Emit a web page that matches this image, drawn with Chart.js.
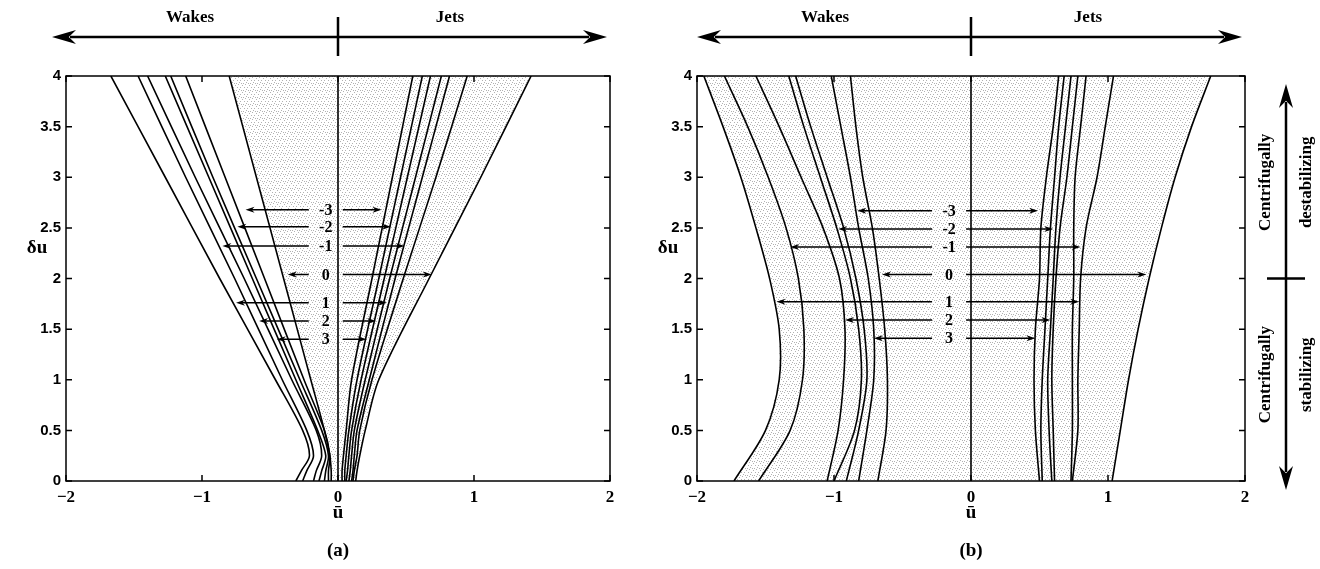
<!DOCTYPE html>
<html>
<head>
<meta charset="utf-8">
<script src="https://cdn.jsdelivr.net/npm/chart.js@4.4.1/dist/chart.umd.min.js"></script>
<style>
  html, body { margin: 0; padding: 0; background: #fff; }
  #wrap { position: relative; width: 1320px; height: 569px; overflow: hidden; }
  canvas { position: absolute; top: 0; }
</style>
</head>
<body>
<div id="wrap">
  <canvas id="chartA" width="660" height="569" style="left:0"></canvas>
  <canvas id="chartB" width="690" height="569" style="left:630px"></canvas>
</div>
<script>
// axis ticks
const xTicks = [-2, -1, 0, 1, 2];
const yTicks = [0, 0.5, 1, 1.5, 2, 2.5, 3, 3.5, 4];

// ---- panel (a): u-bar position of each boundary at the du levels ----
const duA = [0, 0.1, 0.25, 0.5, 1, 2, 3, 4];
const aWake1 = [-0.31, -0.27, -0.21, -0.26, -0.46, -0.87, -1.27, -1.67];
const aWake2 = [-0.26, -0.23, -0.18, -0.23, -0.41, -0.76, -1.12, -1.47];
const aWake3 = [-0.18, -0.16, -0.12, -0.16, -0.34, -0.69, -1.05, -1.40];
const aWake4 = [-0.14, -0.12, -0.09, -0.15, -0.31, -0.63, -0.95, -1.27];
const aWake5 = [-0.10, -0.09, -0.07, -0.12, -0.28, -0.60, -0.92, -1.23];
const aWake6 = [-0.07, -0.07, -0.06, -0.10, -0.25, -0.54, -0.83, -1.12];
const aWake7 = [-0.05, -0.05, -0.06, -0.10, -0.20, -0.40, -0.60, -0.80];
const aJet0 = [0.13, 0.14, 0.16, 0.20, 0.30, 0.67, 1.05, 1.42];
const aJet1 = [0.03, 0.03, 0.04, 0.06, 0.10, 0.25, 0.40, 0.55];
const aJet2 = [0.05, 0.05, 0.06, 0.08, 0.14, 0.30, 0.46, 0.62];
const aJet3 = [0.06, 0.07, 0.08, 0.10, 0.17, 0.34, 0.51, 0.68];
const aJet4 = [0.08, 0.09, 0.10, 0.12, 0.20, 0.38, 0.57, 0.76];
const aJet5 = [0.10, 0.11, 0.12, 0.14, 0.23, 0.42, 0.62, 0.82];
const aJet6 = [0.11, 0.12, 0.14, 0.16, 0.25, 0.48, 0.72, 0.95];

// ---- panel (b) ----
const duB = [0, 0.5, 1, 1.5, 2, 2.5, 3, 3.5, 4];
const bWake1 = [-1.73, -1.50, -1.40, -1.40, -1.47, -1.57, -1.68, -1.81, -1.95];
const bWake2 = [-1.55, -1.32, -1.23, -1.22, -1.26, -1.35, -1.48, -1.63, -1.80];
const bWake3 = [-1.05, -0.97, -0.93, -0.92, -0.96, -1.08, -1.24, -1.40, -1.57];
const bWake4 = [-1.00, -0.85, -0.80, -0.82, -0.88, -0.98, -1.10, -1.22, -1.33];
const bWake5 = [-0.91, -0.82, -0.76, -0.78, -0.84, -0.93, -1.05, -1.17, -1.28];
const bWake6 = [-0.82, -0.76, -0.71, -0.71, -0.75, -0.82, -0.88, -0.95, -1.02];
const bWake7 = [-0.68, -0.62, -0.61, -0.63, -0.67, -0.72, -0.79, -0.84, -0.88];
const bJet0 = [1.03, 1.09, 1.15, 1.22, 1.30, 1.39, 1.49, 1.61, 1.75];
const bJet1 = [0.50, 0.47, 0.46, 0.47, 0.50, 0.51, 0.55, 0.60, 0.64];
const bJet2 = [0.52, 0.51, 0.52, 0.54, 0.56, 0.58, 0.61, 0.64, 0.68];
const bJet3 = [0.59, 0.57, 0.56, 0.58, 0.60, 0.62, 0.65, 0.69, 0.73];
const bJet4 = [0.61, 0.60, 0.59, 0.60, 0.62, 0.65, 0.70, 0.74, 0.78];
const bJet5 = [0.73, 0.74, 0.74, 0.74, 0.75, 0.75, 0.76, 0.80, 0.84];
const bJet6 = [0.74, 0.78, 0.78, 0.79, 0.80, 0.84, 0.92, 0.98, 1.04];

// labelled double arrows (du level, wake tip, jet tip)
const arrowLabels = ['-3', '-2', '-1', '0', '1', '2', '3'];
const aArrowDu = [2.68, 2.51, 2.32, 2.04, 1.76, 1.58, 1.40];
const aArrowLeft = [-0.68, -0.74, -0.85, -0.37, -0.75, -0.58, -0.45];
const aArrowRight = [0.32, 0.39, 0.49, 0.69, 0.36, 0.28, 0.21];
const bArrowDu = [2.67, 2.49, 2.31, 2.04, 1.77, 1.59, 1.41];
const bArrowLeft = [-0.83, -0.97, -1.32, -0.65, -1.42, -0.92, -0.71];
const bArrowRight = [0.49, 0.60, 0.80, 1.28, 0.79, 0.58, 0.47];

const SERIF = '"Liberation Serif", "DejaVu Serif", serif';
const SANS = '"Liberation Sans", Arial, sans-serif';

function stipple() {
  const c = document.createElement('canvas');
  c.width = 7; c.height = 7;
  const g = c.getContext('2d');
  g.fillStyle = 'rgba(0,0,0,0.30)';
  [[0, 0], [4, 1], [2, 3], [6, 3], [1, 5], [5, 6], [3, 6]].forEach(([px, py]) => g.fillRect(px, py, 1, 1));
  return g.createPattern(c, 'repeat');
}

function head(ctx, x, y, dir, len, half) {
  ctx.beginPath();
  ctx.moveTo(x, y);
  ctx.lineTo(x - dir * len, y - half);
  ctx.lineTo(x - dir * len * 0.7, y);
  ctx.lineTo(x - dir * len, y + half);
  ctx.closePath();
  ctx.fill();
}

function headV(ctx, x, y, dir, len, half) {
  ctx.beginPath();
  ctx.moveTo(x, y);
  ctx.lineTo(x - half, y - dir * len);
  ctx.lineTo(x, y - dir * len * 0.7);
  ctx.lineTo(x + half, y - dir * len);
  ctx.closePath();
  ctx.fill();
}

function decor(p) {
  return {
    id: 'decor',
    afterDatasetsDraw(chart) {
      const { ctx, chartArea: a, scales: { x, y } } = chart;
      ctx.save();
      ctx.strokeStyle = '#000';
      ctx.fillStyle = '#000';
      // frame with inward ticks
      ctx.lineWidth = 1.5;
      ctx.strokeRect(a.left, a.top, a.width, a.height);
      ctx.beginPath();
      xTicks.forEach(v => {
        const px = x.getPixelForValue(v);
        ctx.moveTo(px, a.bottom); ctx.lineTo(px, a.bottom - 6);
        ctx.moveTo(px, a.top); ctx.lineTo(px, a.top + 6);
      });
      yTicks.forEach(v => {
        const py = y.getPixelForValue(v);
        ctx.moveTo(a.left, py); ctx.lineTo(a.left + 6, py);
        ctx.moveTo(a.right, py); ctx.lineTo(a.right - 6, py);
      });
      ctx.stroke();

      // labelled arrows
      const cx = x.getPixelForValue(p.labelX);
      ctx.font = 'bold 16px ' + SERIF;
      ctx.textAlign = 'center';
      ctx.textBaseline = 'middle';
      ctx.lineWidth = 1.5;
      arrowLabels.forEach((t, i) => {
        const py = y.getPixelForValue(p.arrowDu[i]);
        const xl = x.getPixelForValue(p.arrowLeft[i]);
        const xr = x.getPixelForValue(p.arrowRight[i]);
        ctx.beginPath();
        ctx.moveTo(cx - 17, py); ctx.lineTo(xl + 5, py);
        ctx.moveTo(cx + 17, py); ctx.lineTo(xr - 5, py);
        ctx.stroke();
        head(ctx, xl, py, -1, 9, 3);
        head(ctx, xr, py, 1, 9, 3);
        ctx.fillText(t, cx, py + 1);
      });
      ctx.restore();
    },
    afterDraw(chart) {
      const { ctx, chartArea: a, scales: { x, y } } = chart;
      const x0 = x.getPixelForValue(0);
      ctx.save();
      ctx.strokeStyle = '#000';
      ctx.fillStyle = '#000';

      // Wakes <-|-> Jets
      const ya = 37;
      ctx.lineWidth = 2.5;
      ctx.beginPath();
      ctx.moveTo(p.topLeft + 18, ya); ctx.lineTo(p.topRight - 18, ya);
      ctx.moveTo(x0, 17); ctx.lineTo(x0, 56);
      ctx.stroke();
      head(ctx, p.topLeft, ya, -1, 24, 7);
      head(ctx, p.topRight, ya, 1, 24, 7);
      ctx.font = 'bold 17px ' + SERIF;
      ctx.textAlign = 'center';
      ctx.textBaseline = 'middle';
      ctx.fillText('Wakes', p.wakesX, 18);
      ctx.fillText('Jets', p.jetsX, 18);

      // du label and caption
      ctx.font = 'bold 19px ' + SERIF;
      ctx.fillText('\u03B4u', a.left - 29, y.getPixelForValue(2.3));
      ctx.fillText(p.caption, x0, 551);

      if (p.side) {
        const ax = p.side.arrowX;
        const yMid = y.getPixelForValue(2);
        ctx.lineWidth = 2.5;
        ctx.beginPath();
        ctx.moveTo(ax, p.side.top + 18); ctx.lineTo(ax, p.side.bottom - 18);
        ctx.moveTo(ax - 19, yMid); ctx.lineTo(ax + 19, yMid);
        ctx.stroke();
        headV(ctx, ax, p.side.top, -1, 24, 7);
        headV(ctx, ax, p.side.bottom, 1, 24, 7);
        ctx.font = 'bold 17px ' + SERIF;
        const txt = (s, tx, ty) => {
          ctx.save();
          ctx.translate(tx, ty);
          ctx.rotate(-Math.PI / 2);
          ctx.fillText(s, 0, 0);
          ctx.restore();
        };
        txt('Centrifugally', ax - 20, y.getPixelForValue(2.95));
        txt('destabilizing', ax + 21, y.getPixelForValue(2.95));
        txt('Centrifugally', ax - 20, y.getPixelForValue(1.05));
        txt('stabilizing', ax + 21, y.getPixelForValue(1.05));
      }
      ctx.restore();
    }
  };
}

function curve(xs, du) {
  return {
    data: xs.map((v, i) => ({ x: v, y: du[i] })),
    borderColor: '#000',
    borderWidth: 1.6,
    pointRadius: 0,
    tension: 0.3,
    fill: false,
    order: 1
  };
}

function shade(inner, outer, du) {
  const pts = inner.map((v, i) => ({ x: v, y: du[i] }));
  for (let i = outer.length - 1; i >= 0; i--) pts.push({ x: outer[i], y: du[i] });
  return {
    data: pts,
    borderWidth: 0,
    borderColor: 'rgba(0,0,0,0)',
    backgroundColor: stipple(),
    pointRadius: 0,
    tension: 0,
    fill: 'shape',
    order: 10
  };
}

function buildPanel(id, p) {
  const datasets = [shade(p.shadeFrom, p.shadeTo, p.du)];
  p.curves.forEach(c => datasets.push(curve(c, p.du)));
  datasets.push(curve([0, 0], [0, 4]));

  new Chart(document.getElementById(id), {
    type: 'line',
    data: { datasets: datasets },
    options: {
      responsive: false,
      animation: false,
      events: [],
      layout: {
        autoPadding: false,
        padding: { left: 0, top: 76, right: p.padRight, bottom: 43 }
      },
      scales: {
        x: {
          type: 'linear',
          min: -2, max: 2,
          afterBuildTicks: s => { s.ticks = xTicks.map(v => ({ value: v })); },
          afterFit: s => { s.height = 45; },
          grid: { display: false, drawTicks: false },
          border: { display: false },
          ticks: {
            color: '#000',
            padding: 6,
            maxRotation: 0,
            font: { family: SERIF, weight: 'bold', size: 17 },
            callback: v => (v < 0 ? '\u2212' + Math.abs(v) : String(v))
          },
          title: {
            display: true,
            text: '\u016B',
            color: '#000',
            padding: { top: 0, bottom: 2 },
            font: { family: SERIF, weight: 'bold', size: 19 }
          }
        },
        y: {
          type: 'linear',
          min: 0, max: 4,
          afterBuildTicks: s => { s.ticks = yTicks.map(v => ({ value: v })); },
          afterFit: s => { s.width = p.yWidth; },
          grid: { display: false, drawTicks: false },
          border: { display: false },
          ticks: {
            color: '#000',
            padding: 5,
            font: { family: SANS, weight: 'bold', size: 15 },
            callback: v => String(v)
          }
        }
      },
      plugins: {
        legend: { display: false },
        tooltip: { enabled: false }
      }
    },
    plugins: [decor(p)]
  });
}

buildPanel('chartA', {
  du: duA,
  curves: [aWake1, aWake2, aWake3, aWake4, aWake5, aWake6, aWake7,
           aJet0, aJet1, aJet2, aJet3, aJet4, aJet5, aJet6],
  shadeFrom: aWake7, shadeTo: aJet0,
  arrowDu: aArrowDu, arrowLeft: aArrowLeft, arrowRight: aArrowRight,
  labelX: -0.09,
  yWidth: 66, padRight: 50,
  topLeft: 52, topRight: 607, wakesX: 190, jetsX: 450,
  caption: '(a)'
});

buildPanel('chartB', {
  du: duB,
  curves: [bWake1, bWake2, bWake3, bWake4, bWake5, bWake6, bWake7,
           bJet0, bJet1, bJet2, bJet3, bJet4, bJet5, bJet6],
  shadeFrom: bWake1, shadeTo: bJet0,
  arrowDu: bArrowDu, arrowLeft: bArrowLeft, arrowRight: bArrowRight,
  labelX: -0.16,
  yWidth: 67, padRight: 75,
  topLeft: 67, topRight: 612, wakesX: 195, jetsX: 458,
  caption: '(b)',
  side: { arrowX: 656, top: 84, bottom: 490 }
});
</script>
</body>
</html>
